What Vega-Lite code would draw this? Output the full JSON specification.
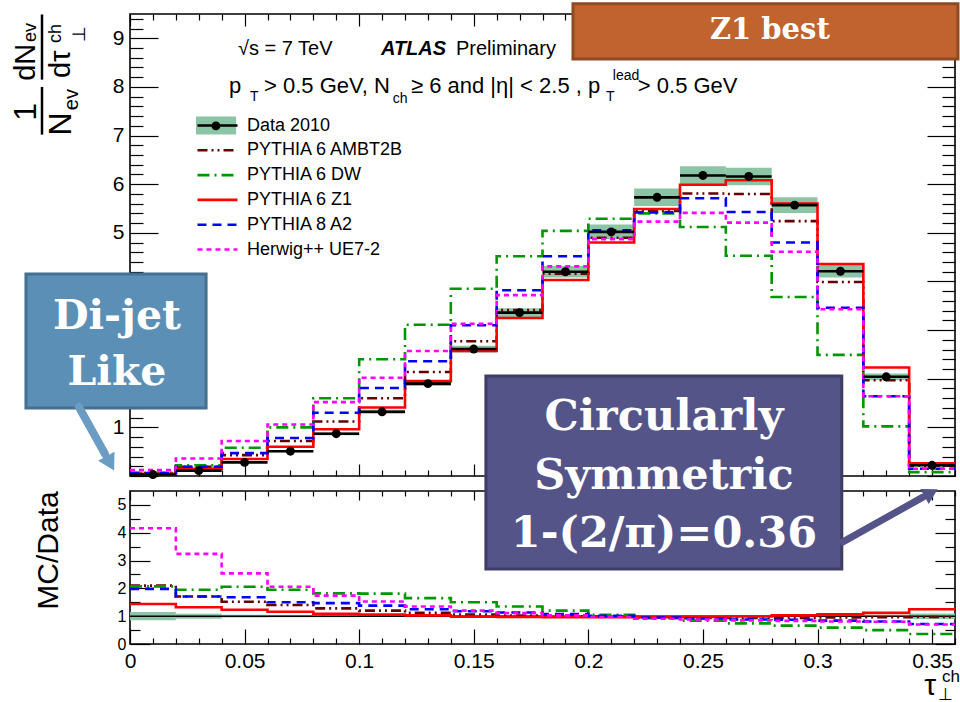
{
  "$schema": "https://vega.github.io/schema/vega-lite/v6.json",
  "autosize": {"type": "pad"},
  "padding": 0,
  "spacing": 15,
  "bounds": "flush",
  "config": {
    "font": "Liberation Sans",
    "view": {"stroke": "black", "strokeWidth": 1.6},
    "axis": {"domain": false, "grid": false, "tickColor": "black", "tickWidth": 1.2, "labelColor": "black", "labelFont": "Liberation Sans"}
  },
  "datasets": {
    "main": [
      {"b": 0, "x0": 0, "x1": 0.02, "xc": 0.01, "data": 0.03, "dlo": 0.024, "dhi": 0.036, "ambt2b": 0.06, "dw": 0.06, "z1": 0.045, "a2": 0.06, "herwig": 0.12},
      {"b": 1, "x0": 0.02, "x1": 0.04, "xc": 0.03, "data": 0.11, "dlo": 0.1, "dhi": 0.12, "ambt2b": 0.19, "dw": 0.22, "z1": 0.15, "a2": 0.19, "herwig": 0.36},
      {"b": 2, "x0": 0.04, "x1": 0.06, "xc": 0.05, "data": 0.28, "dlo": 0.265, "dhi": 0.295, "ambt2b": 0.43, "dw": 0.58, "z1": 0.35, "a2": 0.47, "herwig": 0.72},
      {"b": 3, "x0": 0.06, "x1": 0.08, "xc": 0.07, "data": 0.51, "dlo": 0.49, "dhi": 0.53, "ambt2b": 0.72, "dw": 1.0, "z1": 0.6, "a2": 0.78, "herwig": 1.06},
      {"b": 4, "x0": 0.08, "x1": 0.1, "xc": 0.09, "data": 0.87, "dlo": 0.84, "dhi": 0.9, "ambt2b": 1.12, "dw": 1.6, "z1": 0.96, "a2": 1.3, "herwig": 1.52},
      {"b": 5, "x0": 0.1, "x1": 0.12, "xc": 0.11, "data": 1.32, "dlo": 1.28, "dhi": 1.36, "ambt2b": 1.6, "dw": 2.4, "z1": 1.41, "a2": 1.81, "herwig": 2.02},
      {"b": 6, "x0": 0.12, "x1": 0.14, "xc": 0.13, "data": 1.9, "dlo": 1.85, "dhi": 1.95, "ambt2b": 2.14, "dw": 3.11, "z1": 1.95, "a2": 2.36, "herwig": 2.57},
      {"b": 7, "x0": 0.14, "x1": 0.16, "xc": 0.15, "data": 2.61, "dlo": 2.54, "dhi": 2.68, "ambt2b": 2.77, "dw": 3.85, "z1": 2.57, "a2": 3.1, "herwig": 3.13},
      {"b": 8, "x0": 0.16, "x1": 0.18, "xc": 0.17, "data": 3.36, "dlo": 3.27, "dhi": 3.45, "ambt2b": 3.41, "dw": 4.52, "z1": 3.25, "a2": 3.82, "herwig": 3.72},
      {"b": 9, "x0": 0.18, "x1": 0.2, "xc": 0.19, "data": 4.2, "dlo": 4.08, "dhi": 4.32, "ambt2b": 4.16, "dw": 5.04, "z1": 4.03, "a2": 4.52, "herwig": 4.31},
      {"b": 10, "x0": 0.2, "x1": 0.22, "xc": 0.21, "data": 5.02, "dlo": 4.87, "dhi": 5.17, "ambt2b": 4.9, "dw": 5.29, "z1": 4.8, "a2": 5.05, "herwig": 4.87},
      {"b": 11, "x0": 0.22, "x1": 0.24, "xc": 0.23, "data": 5.73, "dlo": 5.55, "dhi": 5.91, "ambt2b": 5.45, "dw": 5.4, "z1": 5.49, "a2": 5.42, "herwig": 5.23},
      {"b": 12, "x0": 0.24, "x1": 0.26, "xc": 0.25, "data": 6.18, "dlo": 5.99, "dhi": 6.37, "ambt2b": 5.81, "dw": 5.12, "z1": 5.99, "a2": 5.71, "herwig": 5.41},
      {"b": 13, "x0": 0.26, "x1": 0.28, "xc": 0.27, "data": 6.16, "dlo": 5.98, "dhi": 6.34, "ambt2b": 5.8, "dw": 4.53, "z1": 6.08, "a2": 5.43, "herwig": 5.21},
      {"b": 14, "x0": 0.28, "x1": 0.3, "xc": 0.29, "data": 5.57, "dlo": 5.41, "dhi": 5.73, "ambt2b": 5.24, "dw": 3.68, "z1": 5.6, "a2": 4.8, "herwig": 4.61},
      {"b": 15, "x0": 0.3, "x1": 0.32, "xc": 0.31, "data": 4.21, "dlo": 4.08, "dhi": 4.34, "ambt2b": 3.99, "dw": 2.49, "z1": 4.36, "a2": 3.46, "herwig": 3.43},
      {"b": 16, "x0": 0.32, "x1": 0.34, "xc": 0.33, "data": 2.04, "dlo": 1.97, "dhi": 2.11, "ambt2b": 1.97, "dw": 1.02, "z1": 2.23, "a2": 1.64, "herwig": 1.64},
      {"b": 17, "x0": 0.34, "x1": 0.36, "xc": 0.35, "data": 0.22, "dlo": 0.2, "dhi": 0.24, "ambt2b": 0.21, "dw": 0.08, "z1": 0.26, "a2": 0.15, "herwig": 0.15}
    ],
    "ratio": [
      {"b": 0, "x0": 0, "x1": 0.02, "blo": 0.85, "bhi": 1.15, "ambt2b": 2.1, "dw": 2.07, "z1": 1.44, "a2": 1.98, "herwig": 4.16},
      {"b": 1, "x0": 0.02, "x1": 0.04, "blo": 0.91, "bhi": 1.09, "ambt2b": 1.71, "dw": 1.95, "z1": 1.32, "a2": 1.71, "herwig": 3.24},
      {"b": 2, "x0": 0.04, "x1": 0.06, "blo": 0.95, "bhi": 1.05, "ambt2b": 1.52, "dw": 2.06, "z1": 1.23, "a2": 1.68, "herwig": 2.54},
      {"b": 3, "x0": 0.06, "x1": 0.08, "blo": 0.96, "bhi": 1.04, "ambt2b": 1.4, "dw": 1.95, "z1": 1.16, "a2": 1.5, "herwig": 2.06},
      {"b": 4, "x0": 0.08, "x1": 0.1, "blo": 0.965, "bhi": 1.035, "ambt2b": 1.28, "dw": 1.82, "z1": 1.09, "a2": 1.47, "herwig": 1.74},
      {"b": 5, "x0": 0.1, "x1": 0.12, "blo": 0.97, "bhi": 1.03, "ambt2b": 1.2, "dw": 1.81, "z1": 1.06, "a2": 1.38, "herwig": 1.53},
      {"b": 6, "x0": 0.12, "x1": 0.14, "blo": 0.97, "bhi": 1.03, "ambt2b": 1.12, "dw": 1.65, "z1": 1.03, "a2": 1.25, "herwig": 1.35},
      {"b": 7, "x0": 0.14, "x1": 0.16, "blo": 0.97, "bhi": 1.03, "ambt2b": 1.06, "dw": 1.5, "z1": 0.98, "a2": 1.18, "herwig": 1.2},
      {"b": 8, "x0": 0.16, "x1": 0.18, "blo": 0.97, "bhi": 1.03, "ambt2b": 1.02, "dw": 1.35, "z1": 0.97, "a2": 1.13, "herwig": 1.11},
      {"b": 9, "x0": 0.18, "x1": 0.2, "blo": 0.97, "bhi": 1.03, "ambt2b": 0.99, "dw": 1.2, "z1": 0.96, "a2": 1.08, "herwig": 1.03},
      {"b": 10, "x0": 0.2, "x1": 0.22, "blo": 0.97, "bhi": 1.03, "ambt2b": 0.98, "dw": 1.05, "z1": 0.96, "a2": 1.01, "herwig": 0.97},
      {"b": 11, "x0": 0.22, "x1": 0.24, "blo": 0.97, "bhi": 1.03, "ambt2b": 0.95, "dw": 0.93, "z1": 0.96, "a2": 0.95, "herwig": 0.91},
      {"b": 12, "x0": 0.24, "x1": 0.26, "blo": 0.97, "bhi": 1.03, "ambt2b": 0.94, "dw": 0.84, "z1": 0.97, "a2": 0.92, "herwig": 0.88},
      {"b": 13, "x0": 0.26, "x1": 0.28, "blo": 0.97, "bhi": 1.03, "ambt2b": 0.94, "dw": 0.74, "z1": 0.99, "a2": 0.88, "herwig": 0.85},
      {"b": 14, "x0": 0.28, "x1": 0.3, "blo": 0.97, "bhi": 1.03, "ambt2b": 0.94, "dw": 0.66, "z1": 1.03, "a2": 0.87, "herwig": 0.83},
      {"b": 15, "x0": 0.3, "x1": 0.32, "blo": 0.97, "bhi": 1.03, "ambt2b": 0.95, "dw": 0.59, "z1": 1.07, "a2": 0.84, "herwig": 0.81},
      {"b": 16, "x0": 0.32, "x1": 0.34, "blo": 0.97, "bhi": 1.03, "ambt2b": 0.96, "dw": 0.5, "z1": 1.12, "a2": 0.81, "herwig": 0.8},
      {"b": 17, "x0": 0.34, "x1": 0.36, "blo": 0.9, "bhi": 1.1, "ambt2b": 0.97, "dw": 0.36, "z1": 1.25, "a2": 0.72, "herwig": 0.7}
    ]
  },
  "vconcat": [
    {
      "width": 825,
      "height": 462,
      "data": {"name": "main"},
      "resolve": {"axis": {"x": "independent", "y": "independent"}},
      "layer": [
        {
          "mark": {"type": "rect", "color": "#8cc5a5"},
          "encoding": {
            "x": {"field": "x0", "type": "quantitative", "scale": {"domain": [0, 0.36], "nice": false, "zero": false},
              "axis": {"orient": "bottom", "title": null, "labels": false,
                "values": [0,0.01,0.02,0.03,0.04,0.05,0.06,0.07,0.08,0.09,0.1,0.11,0.12,0.13,0.14,0.15,0.16,0.17,0.18,0.19,0.2,0.21,0.22,0.23,0.24,0.25,0.26,0.27,0.28,0.29,0.3,0.31,0.32,0.33,0.34,0.35,0.36],
                "tickSize": {"condition": {"test": "round(datum.value*100) % 5 === 0", "value": -12}, "value": -6}}},
            "x2": {"field": "x1"},
            "y": {"field": "dlo", "type": "quantitative", "scale": {"domain": [0, 9.5], "nice": false, "zero": false},
              "axis": {"orient": "left", "title": null,
                "values": [0,0.2,0.4,0.6,0.8,1,1.2,1.4,1.6,1.8,2,2.2,2.4,2.6,2.8,3,3.2,3.4,3.6,3.8,4,4.2,4.4,4.6,4.8,5,5.2,5.4,5.6,5.8,6,6.2,6.4,6.6,6.8,7,7.2,7.4,7.6,7.8,8,8.2,8.4,8.6,8.8,9,9.2,9.4],
                "tickSize": {"condition": {"test": "abs(datum.value - round(datum.value)) < 0.001", "value": -28}, "value": -13},
                "labelExpr": "abs(datum.value - round(datum.value)) < 0.001 && (datum.value === 1 || datum.value >= 5) ? format(datum.value, 'd') : ''",
                "labelFontSize": 21, "labelPadding": 34}},
            "y2": {"field": "dhi"}
          }
        },
        {
          "transform": [
            {"fold": ["ambt2b", "dw", "z1", "a2", "herwig"], "as": ["series", "v"]},
            {"fold": ["x0", "x1"], "as": ["edge", "xe"]}
          ],
          "mark": {"type": "line", "strokeWidth": 2.6},
          "encoding": {
            "x": {"field": "xe", "type": "quantitative",
              "axis": {"orient": "top", "title": null, "labels": false,
                "values": [0,0.01,0.02,0.03,0.04,0.05,0.06,0.07,0.08,0.09,0.1,0.11,0.12,0.13,0.14,0.15,0.16,0.17,0.18,0.19,0.2,0.21,0.22,0.23,0.24,0.25,0.26,0.27,0.28,0.29,0.3,0.31,0.32,0.33,0.34,0.35,0.36],
                "tickSize": {"condition": {"test": "round(datum.value*100) % 5 === 0", "value": -12}, "value": -6}}},
            "y": {"field": "v", "type": "quantitative",
              "axis": {"orient": "right", "title": null, "labels": false,
                "values": [0,0.2,0.4,0.6,0.8,1,1.2,1.4,1.6,1.8,2,2.2,2.4,2.6,2.8,3,3.2,3.4,3.6,3.8,4,4.2,4.4,4.6,4.8,5,5.2,5.4,5.6,5.8,6,6.2,6.4,6.6,6.8,7,7.2,7.4,7.6,7.8,8,8.2,8.4,8.6,8.8,9,9.2,9.4],
                "tickSize": {"condition": {"test": "abs(datum.value - round(datum.value)) < 0.001", "value": -28}, "value": -13}}},
            "color": {"field": "series", "type": "nominal",
              "scale": {"domain": ["data", "ambt2b", "dw", "z1", "a2", "herwig"], "range": ["#000000", "#660000", "#009600", "#ff0000", "#0000ff", "#ff00ff"]},
              "legend": {"title": null, "orient": "none", "legendX": 66, "legendY": 101, "padding": 0,
                "symbolType": "stroke", "symbolSize": 1600, "symbolStrokeWidth": 2.6, "clipHeight": 21, "rowPadding": 3.8,
                "labelFontSize": 18, "labelFont": "Liberation Sans", "labelColor": "black", "labelOffset": 8, "labelLimit": 400,
                "labelExpr": "{'data':'Data 2010','ambt2b':'PYTHIA 6 AMBT2B','dw':'PYTHIA 6 DW','z1':'PYTHIA 6 Z1','a2':'PYTHIA 8 A2','herwig':'Herwig++ UE7-2'}[datum.value]"}},
            "strokeDash": {"field": "series", "type": "nominal",
              "scale": {"domain": ["data", "ambt2b", "dw", "z1", "a2", "herwig"], "range": [[1, 0], [10, 4, 2, 4, 2, 4], [12, 5, 2, 5], [1, 0], [9, 6], [5, 4]]},
              "legend": {"title": null, "orient": "none", "legendX": 66, "legendY": 101, "padding": 0,
                "symbolType": "stroke", "symbolSize": 1600, "symbolStrokeWidth": 2.6, "clipHeight": 21, "rowPadding": 3.8,
                "labelFontSize": 18, "labelFont": "Liberation Sans", "labelColor": "black", "labelOffset": 8, "labelLimit": 400,
                "labelExpr": "{'data':'Data 2010','ambt2b':'PYTHIA 6 AMBT2B','dw':'PYTHIA 6 DW','z1':'PYTHIA 6 Z1','a2':'PYTHIA 8 A2','herwig':'Herwig++ UE7-2'}[datum.value]"}},
            "order": [{"field": "b", "type": "quantitative"}, {"field": "edge", "type": "nominal"}]
          }
        },
        {
          "mark": {"type": "rule", "color": "black", "strokeWidth": 2.6},
          "encoding": {
            "x": {"field": "x0", "type": "quantitative", "axis": null},
            "x2": {"field": "x1"},
            "y": {"field": "data", "type": "quantitative", "axis": null}
          }
        },
        {
          "mark": {"type": "point", "filled": true, "color": "black", "size": 80, "opacity": 1},
          "encoding": {
            "x": {"field": "xc", "type": "quantitative", "axis": null},
            "y": {"field": "data", "type": "quantitative", "axis": null}
          }
        },
        {
          "data": {"values": [{}]},
          "layer": [
            {"mark": {"type": "rect", "opacity": 0, "fill": "white"},
              "encoding": {"x": {"datum": -0.05628, "type": "quantitative", "axis": null}, "x2": {"datum": 0.3626},
                "y": {"datum": 9.753, "type": "quantitative", "axis": null}, "y2": {"datum": -4.69}}},
            {"mark": {"type": "rect", "color": "#8cc5a5"},
              "encoding": {"x": {"datum": 0.0288, "type": "quantitative", "axis": null}, "x2": {"datum": 0.0463},
                "y": {"datum": 7.39, "type": "quantitative", "axis": null}, "y2": {"datum": 7.02}}},
            {"mark": {"type": "point", "filled": true, "color": "black", "size": 80, "opacity": 1},
              "encoding": {"x": {"datum": 0.0375, "type": "quantitative", "axis": null}, "y": {"datum": 7.2, "type": "quantitative", "axis": null}}},
            {"mark": {"type": "text", "text": "√s = 7 TeV", "align": "left", "baseline": "alphabetic", "fontSize": 20, "color": "black"},
              "encoding": {"x": {"datum": 0.0471, "type": "quantitative", "axis": null}, "y": {"datum": 8.66, "type": "quantitative", "axis": null}}},
            {"mark": {"type": "text", "text": "ATLAS", "align": "left", "baseline": "alphabetic", "fontSize": 20, "fontWeight": "bold", "fontStyle": "italic", "color": "black"},
              "encoding": {"x": {"datum": 0.1095, "type": "quantitative", "axis": null}, "y": {"datum": 8.66, "type": "quantitative", "axis": null}}},
            {"mark": {"type": "text", "text": "Preliminary", "align": "left", "baseline": "alphabetic", "fontSize": 20, "color": "black"},
              "encoding": {"x": {"datum": 0.1422, "type": "quantitative", "axis": null}, "y": {"datum": 8.66, "type": "quantitative", "axis": null}}},
            {"mark": {"type": "text", "text": "p", "align": "left", "baseline": "alphabetic", "fontSize": 22, "color": "black"},
              "encoding": {"x": {"datum": 0.0432, "type": "quantitative", "axis": null}, "y": {"datum": 7.88, "type": "quantitative", "axis": null}}},
            {"mark": {"type": "text", "text": "T", "align": "left", "baseline": "alphabetic", "fontSize": 14, "color": "black"},
              "encoding": {"x": {"datum": 0.0524, "type": "quantitative", "axis": null}, "y": {"datum": 7.72, "type": "quantitative", "axis": null}}},
            {"mark": {"type": "text", "text": "> 0.5 GeV, N", "align": "left", "baseline": "alphabetic", "fontSize": 22, "color": "black"},
              "encoding": {"x": {"datum": 0.0585, "type": "quantitative", "axis": null}, "y": {"datum": 7.88, "type": "quantitative", "axis": null}}},
            {"mark": {"type": "text", "text": "ch", "align": "left", "baseline": "alphabetic", "fontSize": 14, "color": "black"},
              "encoding": {"x": {"datum": 0.1147, "type": "quantitative", "axis": null}, "y": {"datum": 7.67, "type": "quantitative", "axis": null}}},
            {"mark": {"type": "text", "text": "≥ 6 and |η| < 2.5 , p", "align": "left", "baseline": "alphabetic", "fontSize": 22, "color": "black"},
              "encoding": {"x": {"datum": 0.1226, "type": "quantitative", "axis": null}, "y": {"datum": 7.88, "type": "quantitative", "axis": null}}},
            {"mark": {"type": "text", "text": "T", "align": "left", "baseline": "alphabetic", "fontSize": 14, "color": "black"},
              "encoding": {"x": {"datum": 0.2077, "type": "quantitative", "axis": null}, "y": {"datum": 7.72, "type": "quantitative", "axis": null}}},
            {"mark": {"type": "text", "text": "lead", "align": "left", "baseline": "alphabetic", "fontSize": 14, "color": "black"},
              "encoding": {"x": {"datum": 0.2107, "type": "quantitative", "axis": null}, "y": {"datum": 8.15, "type": "quantitative", "axis": null}}},
            {"mark": {"type": "text", "text": "> 0.5 GeV", "align": "left", "baseline": "alphabetic", "fontSize": 22, "color": "black"},
              "encoding": {"x": {"datum": 0.2216, "type": "quantitative", "axis": null}, "y": {"datum": 7.88, "type": "quantitative", "axis": null}}},
            {"mark": {"type": "text", "text": "1", "align": "center", "baseline": "middle", "angle": 270, "fontSize": 32, "color": "black"},
              "encoding": {"x": {"datum": -0.0454, "type": "quantitative", "axis": null}, "y": {"datum": 7.49, "type": "quantitative", "axis": null}}},
            {"mark": {"type": "rule", "color": "black", "strokeWidth": 2.5},
              "encoding": {"x": {"datum": -0.0384, "type": "quantitative", "axis": null}, "y": {"datum": 8.0, "type": "quantitative", "axis": null}, "y2": {"datum": 7.02}}},
            {"mark": {"type": "text", "text": "N", "align": "center", "baseline": "middle", "angle": 270, "fontSize": 32, "color": "black"},
              "encoding": {"x": {"datum": -0.0301, "type": "quantitative", "axis": null}, "y": {"datum": 7.24, "type": "quantitative", "axis": null}}},
            {"mark": {"type": "text", "text": "ev", "align": "center", "baseline": "middle", "angle": 270, "fontSize": 20, "color": "black"},
              "encoding": {"x": {"datum": -0.0253, "type": "quantitative", "axis": null}, "y": {"datum": 7.74, "type": "quantitative", "axis": null}}},
            {"mark": {"type": "text", "text": "dN", "align": "center", "baseline": "middle", "angle": 270, "fontSize": 29, "color": "black"},
              "encoding": {"x": {"datum": -0.0454, "type": "quantitative", "axis": null}, "y": {"datum": 8.508, "type": "quantitative", "axis": null}}},
            {"mark": {"type": "text", "text": "ev", "align": "center", "baseline": "middle", "angle": 270, "fontSize": 18, "color": "black"},
              "encoding": {"x": {"datum": -0.0432, "type": "quantitative", "axis": null}, "y": {"datum": 9.12, "type": "quantitative", "axis": null}}},
            {"mark": {"type": "rule", "color": "black", "strokeWidth": 2.5},
              "encoding": {"x": {"datum": -0.0384, "type": "quantitative", "axis": null}, "y": {"datum": 9.49, "type": "quantitative", "axis": null}, "y2": {"datum": 8.15}}},
            {"mark": {"type": "text", "text": "dτ", "align": "center", "baseline": "middle", "angle": 270, "fontSize": 29, "color": "black"},
              "encoding": {"x": {"datum": -0.0301, "type": "quantitative", "axis": null}, "y": {"datum": 8.467, "type": "quantitative", "axis": null}}},
            {"mark": {"type": "text", "text": "ch", "align": "center", "baseline": "middle", "angle": 270, "fontSize": 18, "color": "black"},
              "encoding": {"x": {"datum": -0.0323, "type": "quantitative", "axis": null}, "y": {"datum": 9.1, "type": "quantitative", "axis": null}}},
            {"mark": {"type": "text", "text": "⊥", "align": "center", "baseline": "middle", "angle": 270, "fontSize": 18, "color": "black"},
              "encoding": {"x": {"datum": -0.0218, "type": "quantitative", "axis": null}, "y": {"datum": 9.08, "type": "quantitative", "axis": null}}}
          ]
        }
      ]
    },
    {
      "width": 825,
      "height": 153,
      "data": {"name": "ratio"},
      "resolve": {"axis": {"x": "independent", "y": "independent"}},
      "layer": [
        {
          "mark": {"type": "rect", "color": "#8cc5a5"},
          "encoding": {
            "x": {"field": "x0", "type": "quantitative", "scale": {"domain": [0, 0.36], "nice": false, "zero": false},
              "axis": {"orient": "bottom", "title": null,
                "values": [0,0.01,0.02,0.03,0.04,0.05,0.06,0.07,0.08,0.09,0.1,0.11,0.12,0.13,0.14,0.15,0.16,0.17,0.18,0.19,0.2,0.21,0.22,0.23,0.24,0.25,0.26,0.27,0.28,0.29,0.3,0.31,0.32,0.33,0.34,0.35,0.36],
                "tickSize": {"condition": {"test": "round(datum.value*100) % 5 === 0", "value": -15}, "value": -6},
                "labelExpr": "round(datum.value*100) % 5 === 0 && datum.value < 0.355 ? format(datum.value, '~g') : ''",
                "labelFontSize": 21, "labelPadding": 21, "labelFlush": false}},
            "x2": {"field": "x1"},
            "y": {"field": "blo", "type": "quantitative", "scale": {"domain": [0, 5.5], "nice": false, "zero": false},
              "axis": {"orient": "left", "values": [0,0.5,1,1.5,2,2.5,3,3.5,4,4.5,5],
                "tickSize": {"condition": {"test": "abs(datum.value - round(datum.value)) < 0.001", "value": -20}, "value": -10},
                "labelExpr": "abs(datum.value - round(datum.value)) < 0.001 ? format(datum.value, 'd') : ''",
                "labelFontSize": 16, "labelPadding": 24,
                "title": "MC/Data", "titleFontSize": 30, "titleFont": "Liberation Sans", "titleFontWeight": "normal", "titleColor": "black",
                "titleAngle": 270, "titleX": -82, "titleY": 59, "titleAlign": "center", "titleBaseline": "middle"}},
            "y2": {"field": "bhi"}
          }
        },
        {
          "data": {"values": [{}]},
          "mark": {"type": "rule", "color": "black", "strokeWidth": 1.5},
          "encoding": {
            "x": {"datum": 0, "type": "quantitative",
              "axis": {"orient": "top", "title": null, "labels": false,
                "values": [0,0.01,0.02,0.03,0.04,0.05,0.06,0.07,0.08,0.09,0.1,0.11,0.12,0.13,0.14,0.15,0.16,0.17,0.18,0.19,0.2,0.21,0.22,0.23,0.24,0.25,0.26,0.27,0.28,0.29,0.3,0.31,0.32,0.33,0.34,0.35,0.36],
                "tickSize": {"condition": {"test": "round(datum.value*100) % 5 === 0", "value": -9}, "value": -5}}},
            "x2": {"datum": 0.36},
            "y": {"datum": 1, "type": "quantitative",
              "axis": {"orient": "right", "title": null, "labels": false, "values": [0,0.5,1,1.5,2,2.5,3,3.5,4,4.5,5],
                "tickSize": {"condition": {"test": "abs(datum.value - round(datum.value)) < 0.001", "value": -20}, "value": -10}}}
          }
        },
        {
          "transform": [
            {"fold": ["ambt2b", "dw", "z1", "a2", "herwig"], "as": ["series", "v"]},
            {"fold": ["x0", "x1"], "as": ["edge", "xe"]}
          ],
          "mark": {"type": "line", "strokeWidth": 2.6},
          "encoding": {
            "x": {"field": "xe", "type": "quantitative", "axis": null},
            "y": {"field": "v", "type": "quantitative", "axis": null},
            "color": {"field": "series", "type": "nominal",
              "scale": {"domain": ["data", "ambt2b", "dw", "z1", "a2", "herwig"], "range": ["#000000", "#660000", "#009600", "#ff0000", "#0000ff", "#ff00ff"]},
              "legend": null},
            "strokeDash": {"field": "series", "type": "nominal",
              "scale": {"domain": ["data", "ambt2b", "dw", "z1", "a2", "herwig"], "range": [[1, 0], [10, 4, 2, 4, 2, 4], [12, 5, 2, 5], [1, 0], [9, 6], [5, 4]]},
              "legend": null},
            "order": [{"field": "b", "type": "quantitative"}, {"field": "edge", "type": "nominal"}]
          }
        },
        {
          "data": {"values": [{}]},
          "layer": [
            {"mark": {"type": "rect", "color": "#c1632f", "stroke": "#8e4a22", "strokeWidth": 3},
              "encoding": {"x": {"datum": 0.1933, "type": "quantitative", "axis": null}, "x2": {"datum": 0.3613},
                "y": {"datum": 23.02, "type": "quantitative", "axis": null}, "y2": {"datum": 21.03}}},
            {"mark": {"type": "text", "text": "Z1 best", "align": "center", "baseline": "alphabetic", "fontSize": 29, "font": "DejaVu Serif", "fontWeight": "bold", "color": "white"},
              "encoding": {"x": {"datum": 0.2792, "type": "quantitative", "axis": null}, "y": {"datum": 21.74, "type": "quantitative", "axis": null}}},
            {"mark": {"type": "rect", "color": "#5b8fb6", "stroke": "#45718f", "strokeWidth": 3},
              "encoding": {"x": {"datum": -0.0454, "type": "quantitative", "axis": null}, "x2": {"datum": 0.0332},
                "y": {"datum": 13.3, "type": "quantitative", "axis": null}, "y2": {"datum": 8.48}}},
            {"mark": {"type": "text", "text": "Di-jet", "align": "center", "baseline": "alphabetic", "fontSize": 41, "font": "DejaVu Serif", "fontWeight": "bold", "color": "white"},
              "encoding": {"x": {"datum": -0.0057, "type": "quantitative", "axis": null}, "y": {"datum": 11.33, "type": "quantitative", "axis": null}}},
            {"mark": {"type": "text", "text": "Like", "align": "center", "baseline": "alphabetic", "fontSize": 41, "font": "DejaVu Serif", "fontWeight": "bold", "color": "white"},
              "encoding": {"x": {"datum": -0.0057, "type": "quantitative", "axis": null}, "y": {"datum": 9.3, "type": "quantitative", "axis": null}}},
            {"mark": {"type": "rule", "color": "#6a9cc4", "strokeWidth": 8, "strokeCap": "round"},
              "encoding": {"x": {"datum": -0.0223, "type": "quantitative", "axis": null}, "x2": {"datum": -0.0109},
                "y": {"datum": 8.52, "type": "quantitative", "axis": null}, "y2": {"datum": 6.83}}},
            {"mark": {"type": "point", "shape": "triangle", "filled": true, "color": "#6a9cc4", "size": 350, "angle": 151, "opacity": 1},
              "encoding": {"x": {"datum": -0.0092, "type": "quantitative", "axis": null}, "y": {"datum": 6.58, "type": "quantitative", "axis": null}}},
            {"mark": {"type": "rect", "color": "#545488", "stroke": "#3d3d66", "strokeWidth": 3},
              "encoding": {"x": {"datum": 0.1553, "type": "quantitative", "axis": null}, "x2": {"datum": 0.3106},
                "y": {"datum": 9.63, "type": "quantitative", "axis": null}, "y2": {"datum": 2.7}}},
            {"mark": {"type": "text", "text": "Circularly", "align": "center", "baseline": "alphabetic", "fontSize": 43, "font": "DejaVu Serif", "fontWeight": "bold", "color": "white"},
              "encoding": {"x": {"datum": 0.233, "type": "quantitative", "axis": null}, "y": {"datum": 7.69, "type": "quantitative", "axis": null}}},
            {"mark": {"type": "text", "text": "Symmetric", "align": "center", "baseline": "alphabetic", "fontSize": 43, "font": "DejaVu Serif", "fontWeight": "bold", "color": "white"},
              "encoding": {"x": {"datum": 0.233, "type": "quantitative", "axis": null}, "y": {"datum": 5.57, "type": "quantitative", "axis": null}}},
            {"mark": {"type": "text", "text": "1-(2/π)=0.36", "align": "center", "baseline": "alphabetic", "fontSize": 43, "font": "DejaVu Serif", "fontWeight": "bold", "color": "white"},
              "encoding": {"x": {"datum": 0.233, "type": "quantitative", "axis": null}, "y": {"datum": 3.49, "type": "quantitative", "axis": null}}},
            {"mark": {"type": "rule", "color": "#545488", "strokeWidth": 7, "strokeCap": "round"},
              "encoding": {"x": {"datum": 0.3111, "type": "quantitative", "axis": null}, "x2": {"datum": 0.346},
                "y": {"datum": 3.67, "type": "quantitative", "axis": null}, "y2": {"datum": 5.28}}},
            {"mark": {"type": "point", "shape": "triangle", "filled": true, "color": "#545488", "size": 300, "angle": 61, "opacity": 1},
              "encoding": {"x": {"datum": 0.3486, "type": "quantitative", "axis": null}, "y": {"datum": 5.39, "type": "quantitative", "axis": null}}},
            {"mark": {"type": "text", "text": "τ", "align": "center", "baseline": "middle", "fontSize": 30, "color": "black"},
              "encoding": {"x": {"datum": 0.3492, "type": "quantitative", "axis": null}, "y": {"datum": -1.52, "type": "quantitative", "axis": null}}},
            {"mark": {"type": "text", "text": "ch", "align": "center", "baseline": "middle", "fontSize": 17, "color": "black"},
              "encoding": {"x": {"datum": 0.3582, "type": "quantitative", "axis": null}, "y": {"datum": -1.17, "type": "quantitative", "axis": null}}},
            {"mark": {"type": "text", "text": "⊥", "align": "center", "baseline": "middle", "fontSize": 17, "color": "black"},
              "encoding": {"x": {"datum": 0.356, "type": "quantitative", "axis": null}, "y": {"datum": -1.82, "type": "quantitative", "axis": null}}}
          ]
        }
      ]
    }
  ]
}
